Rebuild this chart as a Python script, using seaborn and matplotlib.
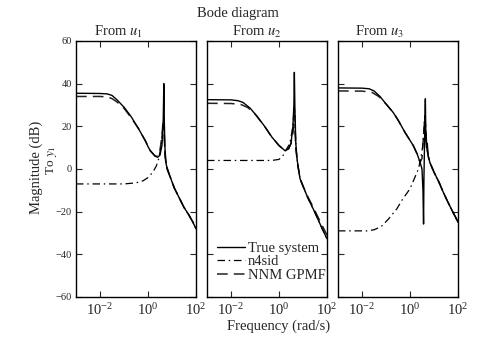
import matplotlib
matplotlib.use("Agg")
import matplotlib.pyplot as plt
import seaborn as sns
import numpy as np
from matplotlib.lines import Line2D

sns.set_style("ticks")
plt.rcParams['font.family'] = ['Liberation Serif', 'DejaVu Serif']
plt.rcParams['mathtext.fontset'] = 'stix'

inputs = ["u_1", "u_2", "u_3"]
series_names = ["True system", "n4sid", "NNM GPMF"]
yticks = [60, 40, 20, 0, -20, -40, -60]

# ---- panel 1 (From u1) : log10 frequency, magnitude dB
true1_lf = [-3, -2, -1.7, -1.5, -1.3, -1.0, -0.7, -0.4, -0.1, 0.0, 0.1, 0.3, 0.4, 0.5, 0.58, 0.63, 0.66, 0.68, 0.71, 0.76, 0.9, 1.1, 1.3, 1.5, 1.7, 1.85, 2.0]
true1_db = [35.5, 35.4, 35.2, 34.5, 32.5, 29, 24.5, 19, 13, 10.5, 8.5, 6, 5.5, 6.5, 11, 20, 40, 22, 9, 2, -3, -9, -13.5, -18, -21.5, -24.5, -28]
gp1_lf = [-3, -2, -1.7, -1.5, -1.3, -1.0, -0.7, -0.4, -0.1, 0.0, 0.1, 0.3, 0.4, 0.5, 0.58, 0.63, 0.66, 0.69, 0.72, 0.78, 0.9, 1.1, 1.3, 1.5, 1.7, 1.85, 2.0]
gp1_db = [34, 34, 33.8, 33, 31.5, 28.5, 24, 19, 13, 10.5, 8.5, 6, 6, 9, 15, 23, 24, 12, 5, 0.5, -3, -9, -13.5, -18, -21.5, -24.5, -27.5]
n4_1_lf = [-3, -1.0, -0.5, -0.2, 0.0, 0.2, 0.35, 0.45, 0.55, 0.62, 0.65, 0.68, 0.72, 0.78, 0.9, 1.1, 1.3, 1.5, 1.7, 1.85, 2.0]
n4_1_db = [-7, -7, -6.5, -5.5, -4, -1.5, 1.5, 5, 11, 20, 23, 14, 5, 0.5, -3, -9, -13.5, -18, -21.5, -24.5, -28]

# ---- panel 2 (From u2)
true2_lf = [-3, -2, -1.7, -1.5, -1.2, -0.9, -0.6, -0.3, 0.0, 0.25, 0.4, 0.5, 0.58, 0.62, 0.64, 0.66, 0.7, 0.76, 0.875, 1.0, 1.2, 1.43, 1.6, 1.8, 2.0]
true2_db = [32.5, 32.4, 32, 31.2, 28.5, 24.5, 20, 15, 11, 8.6, 9.5, 12, 20, 30, 45.3, 30, 12, 4, -4.5, -8, -13.5, -18.8, -23, -28, -32.7]
gp2_lf = [-3, -2, -1.6, -1.3, -1.0, -0.6, -0.3, 0.0, 0.25, 0.4, 0.5, 0.58, 0.63, 0.66, 0.7, 0.76, 0.875, 1.0, 1.2, 1.43, 1.6, 1.8, 2.0]
gp2_db = [30.8, 30.7, 30.3, 28.8, 25.8, 20, 15, 11, 8.6, 9.5, 12, 17, 21, 19, 10, 3.5, -4.5, -8, -13, -18, -22, -26.5, -31]
n4_2_lf = [-3, -0.3, 0.0, 0.15, 0.3, 0.45, 0.55, 0.62, 0.65, 0.68, 0.72, 0.78, 0.875, 1.0, 1.2, 1.43, 1.6, 1.8, 2.0]
n4_2_db = [4, 4, 4.5, 6, 9, 12, 18, 26, 28, 18, 8, 2, -4.5, -8, -13.5, -18.8, -23, -28, -32.7]

# ---- panel 3 (From u3)
true3_lf = [-3, -2, -1.7, -1.5, -1.25, -1.0, -0.7, -0.5, -0.2, 0.14, 0.3, 0.42, 0.5, 0.54, 0.565, 0.58, 0.61, 0.64, 0.66, 0.69, 0.72, 0.76, 0.83, 1.0, 1.2, 1.39, 1.6, 1.8, 2.0]
true3_db = [38, 37.9, 37.6, 36.6, 34, 30.5, 26.5, 23, 17, 10.9, 7, 3.1, 0, -10, -25.8, -5, 15, 32.9, 15, 10, 12, 6, 3, -1.5, -6, -11, -16, -20.5, -25]
gp3_lf = [-3, -2, -1.6, -1.3, -1.0, -0.7, -0.5, -0.2, 0.14, 0.3, 0.42, 0.5, 0.56, 0.62, 0.66, 0.7, 0.76, 0.83, 1.0, 1.2, 1.39, 1.6, 1.8, 2.0]
gp3_db = [36.6, 36.5, 36, 34, 30.5, 26.5, 23, 17, 10.9, 7, 3.1, 5, 15, 25, 18, 10, 6, 3, -1.5, -6, -11, -16, -20.5, -24.5]
n4_3_lf = [-3, -1.8, -1.5, -1.2, -0.9, -0.55, -0.3, 0.0, 0.2, 0.35, 0.45, 0.52, 0.58, 0.62, 0.66, 0.7, 0.76, 0.83, 1.0, 1.2, 1.39, 1.6, 1.8, 2.0]
n4_3_db = [-29, -29, -28.5, -27, -23.5, -18.7, -14, -9.3, -4, 0, 5, 10, 18, 25, 18, 10, 6, 3, -1.5, -6, -11, -16, -20.5, -25]

panels = [
    (true1_lf, true1_db, n4_1_lf, n4_1_db, gp1_lf, gp1_db),
    (true2_lf, true2_db, n4_2_lf, n4_2_db, gp2_lf, gp2_db),
    (true3_lf, true3_db, n4_3_lf, n4_3_db, gp3_lf, gp3_db),
]

W, H = 485, 340
fig = plt.figure(figsize=(W / 100, H / 100), dpi=100)
lefts = [76, 207, 338]
top, bottom, pw = 41, 297, 120
title_cx = [118, 257, 380]

dash_style = (0, (7, 4))
dashdot_style = (0, (6, 3, 1.2, 3))

for i, (tl, td, nl, nd, gl, gd) in enumerate(panels):
    ax = fig.add_axes([lefts[i] / W, 1 - bottom / H, pw / W, (bottom - top) / H])
    sns.lineplot(x=10 ** np.array(gl), y=gd, ax=ax, color='#222222', lw=1.1,
                 linestyle=dash_style, estimator=None, sort=False)
    sns.lineplot(x=10 ** np.array(nl), y=nd, ax=ax, color='black', lw=0.9,
                 linestyle=dashdot_style, estimator=None, sort=False)
    sns.lineplot(x=10 ** np.array(tl), y=td, ax=ax, color='black', lw=1.0,
                 estimator=None, sort=False)
    ax.set_xscale('log')
    ax.set_xlim(1e-3, 1e2)
    ax.set_ylim(-60, 60)
    ax.set_xticks([1e-2, 1e0, 1e2])
    ax.minorticks_off()
    ax.set_yticks(yticks)
    ax.tick_params(direction='in', top=True, right=True, length=4, width=0.8)
    ax.tick_params(axis='x', labelsize=10.5, pad=4)
    ax.tick_params(axis='y', labelsize=7.5, pad=3)
    if i > 0:
        ax.set_yticklabels([])
    for s in ax.spines.values():
        s.set_linewidth(1.0)
        s.set_color('black')
    ax.set_xlabel('')
    ax.set_ylabel('')
    fig.text(title_cx[i] / W, 1 - 32 / H, f"From ${inputs[i]}$", ha='center', va='center', fontsize=10.5)
    if i == 1:
        handles = [
            Line2D([], [], color='black', lw=1.0),
            Line2D([], [], color='black', lw=0.9, linestyle=dashdot_style),
            Line2D([], [], color='#222222', lw=1.1, linestyle=dash_style),
        ]
        ax.legend(handles, series_names, loc='lower left', bbox_to_anchor=(0.085, 0.06),
                  frameon=False, fontsize=10.5, handlelength=1.9, handletextpad=0.2,
                  labelspacing=0.0, borderpad=0.0, borderaxespad=0)

fig.text(36 / W, 1 - 167 / H, "Magnitude (dB)", ha='center', va='center', rotation=90, fontsize=10.5)
fig.text(52 / W, 1 - 160 / H, "To $y_1$", ha='center', va='center', rotation=90, fontsize=9.5)
fig.text(238 / W, 1 - 13 / H, "Bode diagram", ha='center', va='center', fontsize=10.5)
fig.text(279 / W, 1 - 326 / H, "Frequency (rad/s)", ha='center', va='center', fontsize=10.5)

fig.savefig("out.png", dpi=100, facecolor='white')
